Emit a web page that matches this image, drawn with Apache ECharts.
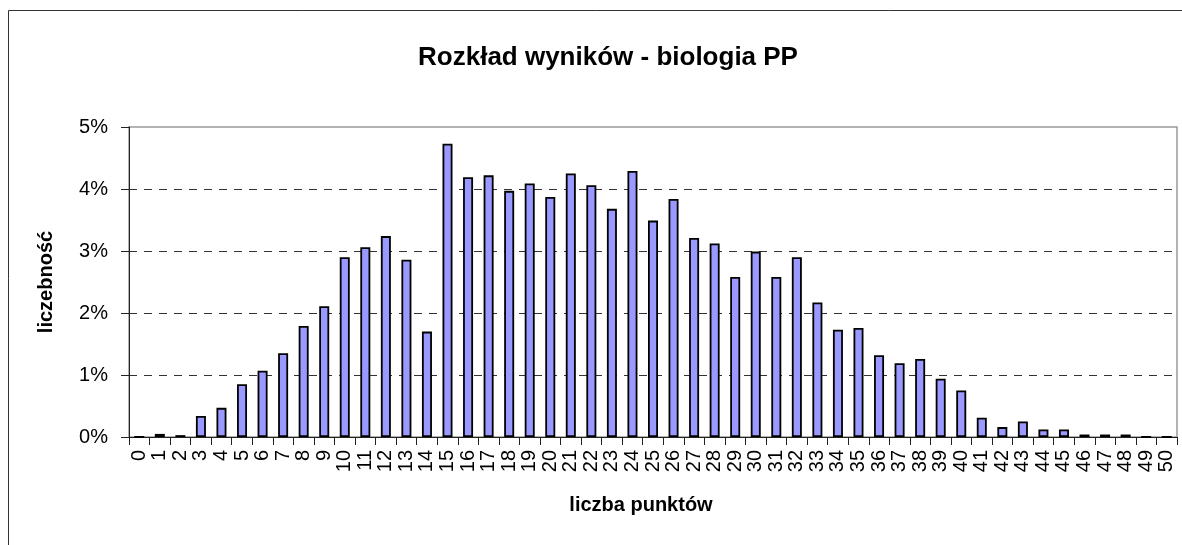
<!DOCTYPE html>
<html>
<head>
<meta charset="utf-8">
<title>Rozkład wyników - biologia PP</title>
<script src="https://cdn.jsdelivr.net/npm/echarts@6/dist/echarts.min.js"></script>
<style>
  html, body { margin: 0; padding: 0; background: #fff; }
  #chart { width: 1182px; height: 545px; }
</style>
</head>
<body>
<div id="chart"></div>
<script>
// liczba punktów 0..50
var points = ['0','1','2','3','4','5','6','7','8','9','10','11','12','13','14','15','16','17','18','19','20',
  '21','22','23','24','25','26','27','28','29','30','31','32','33','34','35','36','37','38','39','40',
  '41','42','43','44','45','46','47','48','49','50'];

// liczebność w %
var share = [0, 0.05, 0.03, 0.34, 0.47, 0.85, 1.07, 1.35, 1.79, 2.11, 2.90,
  3.06, 3.24, 2.86, 1.70, 4.73, 4.19, 4.22, 3.97, 4.09, 3.87,
  4.25, 4.06, 3.68, 4.29, 3.49, 3.84, 3.21, 3.12, 2.58, 2.99,
  2.58, 2.90, 2.17, 1.73, 1.76, 1.32, 1.19, 1.26, 0.94, 0.75,
  0.31, 0.16, 0.25, 0.12, 0.12, 0.04, 0.04, 0.04, 0, 0];

var yTicks = [0, 1, 2, 3, 4, 5];

var font = '"Liberation Sans", Arial, sans-serif';

var chart = echarts.init(document.getElementById('chart'));

var option = {
  backgroundColor: '#fff',
  animation: false,
  title: {
    text: 'Rozkład wyników - biologia PP',
    left: 603,
    top: 40,
    textAlign: 'center',
    textStyle: { fontFamily: font, fontSize: 26, fontWeight: 'bold', color: '#000' }
  },
  // ramka wykresu (prawa i dolna krawędź poza kadrem)
  graphic: [{
    type: 'rect',
    shape: { x: 8.5, y: 10.5, width: 1200, height: 560 },
    style: { fill: 'none', stroke: '#333', lineWidth: 1 },
    silent: true
  }],
  grid: {
    left: 129,
    top: 127,
    right: 5,
    bottom: 108,
    show: true,
    borderColor: '#999',
    borderWidth: 1.5,
    backgroundColor: '#fff'
  },
  xAxis: {
    type: 'category',
    data: points,
    name: 'liczba punktów',
    nameLocation: 'middle',
    nameGap: 58,
    nameTextStyle: { fontFamily: font, fontSize: 20, fontWeight: 'bold', color: '#000', padding: [0, 24, 0, 0] },
    axisLine: { lineStyle: { color: '#222', width: 1 } },
    axisTick: { show: true, length: 8, alignWithLabel: false, lineStyle: { color: '#222' } },
    axisLabel: { interval: 0, rotate: 90, margin: 13, fontFamily: font, fontSize: 20, color: '#000' }
  },
  yAxis: {
    type: 'value',
    min: yTicks[0],
    max: yTicks[yTicks.length - 1],
    interval: 1,
    name: 'liczebność',
    nameLocation: 'middle',
    nameGap: 73,
    nameTextStyle: { fontFamily: font, fontSize: 20, fontWeight: 'bold', color: '#000' },
    axisLine: { show: true, lineStyle: { color: '#222', width: 1 } },
    axisTick: { show: true, length: 8, lineStyle: { color: '#222' } },
    axisLabel: { margin: 21, fontFamily: font, fontSize: 20, color: '#000', formatter: '{value}%' },
    splitLine: {
      show: true,
      showMinLine: false,
      showMaxLine: false,
      lineStyle: { color: '#333', type: [8, 7], width: 1 }
    }
  },
  series: [{
    type: 'bar',
    data: share,
    barWidth: 10,
    itemStyle: { color: '#9999FF', borderColor: '#000', borderWidth: 1.8 }
  }]
};

chart.setOption(option);
</script>
</body>
</html>
